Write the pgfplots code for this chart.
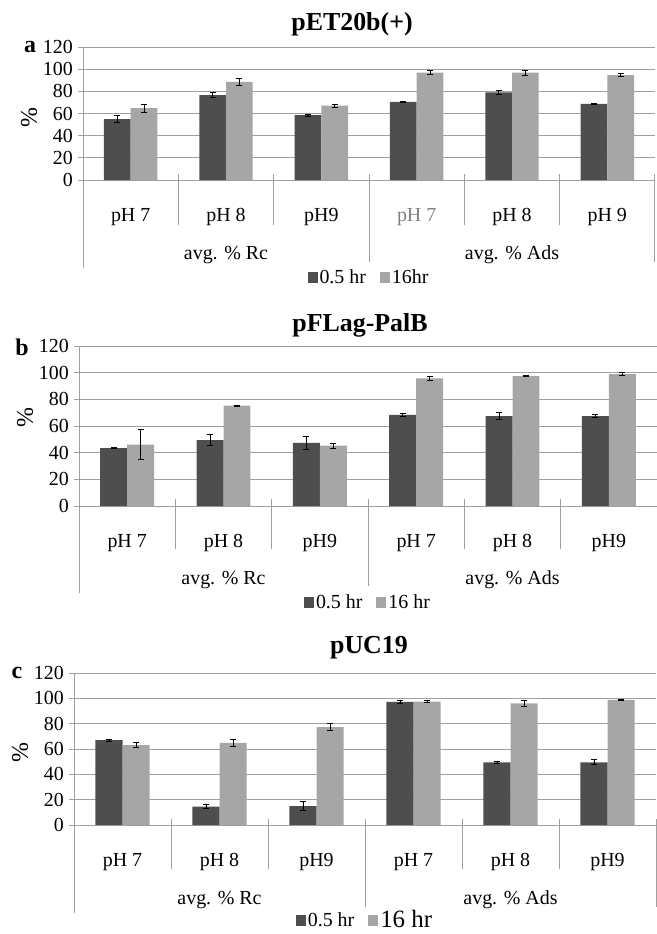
\documentclass[border=0pt]{standalone}
\usepackage{pgfplots}
\pgfplotsset{compat=1.18}
\usepackage{pgfplotstable}
\usepackage{fontspec}
\setmainfont{Liberation Serif}
\definecolor{darkbar}{HTML}{4E4E4E}
\definecolor{lightbar}{HTML}{A6A6A6}
\definecolor{gridc}{HTML}{A0A0A0}
\newcommand\tk{\fontsize{20}{22}\selectfont}
\newcommand\ttl{\fontsize{26}{28}\selectfont\bfseries}
\newcommand\lett{\fontsize{24}{26}\selectfont\bfseries}
\newcommand\pct{\fontsize{24}{26}\selectfont}

% x  d(0.5 hr) de  l(16 hr) le
\pgfplotstableread{
x d de l le
0 54.9 3.0 64.8 3.5
1 76.6 2.4 88.6 3.0
2 58.5 1.0 67.0 1.4
3 70.5 0.8 96.9 2.0
4 79.1 1.5 96.8 2.3
5 68.6 0.8 94.7 1.5
}\dataA
\pgfplotstableread{
x d de l le
0 43.5 0.5 46.0 11.1
1 49.5 4.4 75.3 0.5
2 47.3 4.7 45.3 2.0
3 68.3 1.0 95.8 1.5
4 67.5 2.9 97.5 0.5
5 67.5 1.0 99.0 1.0
}\dataB
\pgfplotstableread{
x d de l le
0 67.0 0.6 63.0 2.0
1 14.5 1.5 64.9 3.0
2 15.0 3.5 77.3 3.0
3 97.2 1.0 97.5 1.0
4 49.5 1.0 96.0 2.0
5 49.5 2.0 98.7 0.5
}\dataC

\pgfplotsset{
  panel/.style={
    scale only axis, anchor=south west,
    ybar=0pt, bar width=0.28,
    xmin=-0.5, xmax=5.5, ymin=0, ymax=120,
    ytick={0,20,...,120}, xtick={0,...,5},
    axis lines*=left, axis line style={gridc, line width=1bp},
    ymajorgrids, grid style={gridc, line width=1bp},
    major tick length=5bp, tick align=outside,
    xtick style={draw=none}, ytick style={gridc, line width=1bp},
    tick label style={font=\tk},
    /pgf/number format/assume math mode=true,
    yticklabel style={inner sep=0pt, xshift=-5bp},
    xticklabel style={anchor=center, yshift=-32bp, inner sep=0pt},
    clip=false,
    legend style={at={(0.5,0)}, anchor=center, draw=none, fill=none,
      legend columns=-1, font=\tk, inner sep=0pt,
      /tikz/every even column/.append style={column sep=12bp}},
    legend image code/.code={\fill[##1] (0bp,-5.5bp) rectangle (10bp,5.5bp);},
    error bars/error bar style={black, line width=0.8bp},
    error bars/error mark options={rotate=90, black, mark size=3bp, line width=0.8bp},
  },
  dk/.style={fill=darkbar, draw=none, error bars/.cd, y dir=both, y explicit},
  lt/.style={fill=lightbar, draw=none, error bars/.cd, y dir=both, y explicit},
}

\newcommand\seps[3]{%
  \draw[gridc, line width=1bp] (axis cs:0.5,0) ++(0pt,#1) -- ++(0pt,#2);
  \draw[gridc, line width=1bp] (axis cs:1.5,0) ++(0pt,#1) -- ++(0pt,#2);
  \draw[gridc, line width=1bp] (axis cs:3.5,0) ++(0pt,#1) -- ++(0pt,#2);
  \draw[gridc, line width=1bp] (axis cs:4.5,0) ++(0pt,#1) -- ++(0pt,#2);
  \draw[gridc, line width=1bp] (axis cs:2.5,0) ++(0pt,#1) -- ++(0pt,#3);
  \draw[gridc, line width=1bp] (axis cs:5.5,0) ++(0pt,#1) -- ++(0pt,#3);
  \draw[gridc, line width=1bp] (axis cs:-0.5,0) -- ++(0pt,#3);
}

\begin{document}
\begin{tikzpicture}
\useasboundingbox (0,0) rectangle (657bp,-934bp);

% ---------- panel a ----------
\node[font=\ttl] at (352bp,-24bp) {pET20b(+)};
\node[font=\lett] at (30bp,-47bp) {a};
\node[font=\pct, rotate=90] at (29bp,-118bp) {\%};
\begin{axis}[panel, at={(83bp,-180bp)}, width=572bp, height=133bp,
  xticklabels={pH 7, pH 8, pH9, \textcolor{gray}{pH 7}, pH 8, pH 9},
  legend style={yshift=-97bp}]
\addplot[dk] table[x=x, y=d, y error=de] {\dataA};
\addplot[lt] table[x=x, y=l, y error=le] {\dataA};
\legend{0.5 hr, 16hr}
\seps{6bp}{-51bp}{-88bp}
\node[font=\tk, yshift=-75bp] at (axis cs:1,0) {avg. \% Rc};
\node[font=\tk, yshift=-75bp] at (axis cs:4,0) {avg. \% Ads};
\end{axis}

% ---------- panel b ----------
\node[font=\ttl] at (360bp,-325bp) {pFLag-PalB};
\node[font=\lett] at (22bp,-347bp) {b};
\node[font=\pct, rotate=90] at (25bp,-418bp) {\%};
\begin{axis}[panel, at={(79bp,-506bp)}, width=578bp, height=160bp,
  xticklabels={pH 7, pH 8, pH9, pH 7, pH 8, pH9},
  legend style={yshift=-96bp}]
\addplot[dk] table[x=x, y=d, y error=de] {\dataB};
\addplot[lt] table[x=x, y=l, y error=le] {\dataB};
\legend{0.5 hr, 16 hr}
\seps{7bp}{-50bp}{-87bp}
\node[font=\tk, yshift=-74bp] at (axis cs:1,0) {avg. \% Rc};
\node[font=\tk, yshift=-74bp] at (axis cs:4,0) {avg. \% Ads};
\end{axis}

% ---------- panel c ----------
\node[font=\ttl] at (369bp,-648bp) {pUC19};
\node[font=\lett] at (17bp,-673bp) {c};
\node[font=\pct, rotate=90] at (20bp,-753bp) {\%};
\begin{axis}[panel, at={(74bp,-825bp)}, width=582bp, height=152bp,
  xticklabels={pH 7, pH 8, pH9, pH 7, pH 8, pH9},
  legend style={yshift=-95bp}]
\addplot[dk] table[x=x, y=d, y error=de] {\dataC};
\addplot[lt] table[x=x, y=l, y error=le] {\dataC};
\legend{0.5 hr, {\fontsize{25}{27}\selectfont 16 hr}}
\seps{6bp}{-50bp}{-88bp}
\node[font=\tk, yshift=-75bp] at (axis cs:1,0) {avg. \% Rc};
\node[font=\tk, yshift=-75bp] at (axis cs:4,0) {avg. \% Ads};
\end{axis}
\end{tikzpicture}
\end{document}
